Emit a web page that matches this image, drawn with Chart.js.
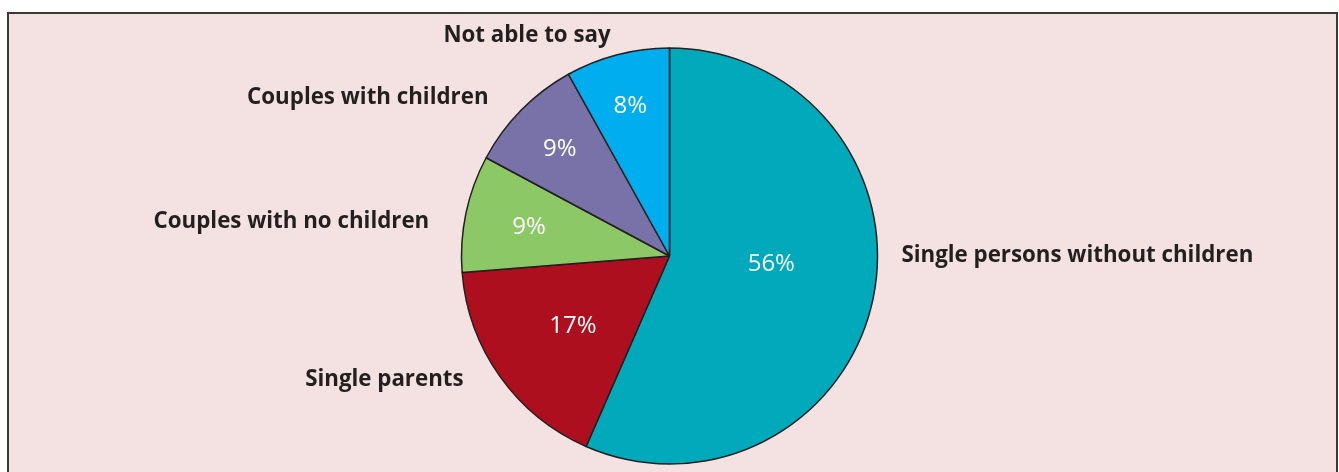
<!DOCTYPE html>
<html>
<head>
<meta charset="utf-8">
<script src="https://cdn.jsdelivr.net/npm/chart.js@4/dist/chart.umd.min.js"></script>
<style>
  html, body { margin: 0; padding: 0; background: #ffffff; }
  #frame {
    position: absolute; left: 7px; top: 12px; width: 1327px; height: 480px;
    background: #f4e1e1; border: 2px solid #3a3a3a;
  }
  #wrap { position: absolute; left: 0; top: 0; width: 1339px; height: 472px; }
</style>
</head>
<body>
<div id="frame"></div>
<div id="wrap"><canvas id="pieChart"></canvas></div>
<script>
// data
const categories = ['Single persons without children', 'Single parents', 'Couples with no children', 'Couples with children', 'Not able to say'];
const shares = [56, 17, 9, 9, 8];
const sliceColors = ['#00aabb', '#ad0f1e', '#8cc865', '#7872a8', '#00aeef'];

// where the outside labels sit, relative to the pie centre (in radii)
const labelSpots = [
  { x: 1.115, y: 0.0, align: 'left' },
  { x: -0.99, y: 0.595, align: 'right' },
  { x: -1.155, y: -0.165, align: 'right' },
  { x: -0.87, y: -0.76, align: 'right' },
  { x: -0.685, y: -1.058, align: 'center' }
];
// how far out the % text goes (fraction of radius)
const pctDepth = [0.5, 0.57, 0.69, 0.74, 0.75];

const labelPlugin = {
  id: 'pieLabels',
  afterDatasetsDraw(chart) {
    const ctx = chart.ctx;
    const arcs = chart.getDatasetMeta(0).data;
    ctx.save();
    ctx.textBaseline = 'middle';
    arcs.forEach((arc, i) => {
      const r = arc.outerRadius;
      const mid = (arc.startAngle + arc.endAngle) / 2;
      // percentage inside the slice
      ctx.fillStyle = '#ffffff';
      ctx.font = '24px "Open Sans", sans-serif';
      ctx.textAlign = 'center';
      let d = pctDepth[i] * r;
      let dy = i === 0 ? -13 : 1;
      ctx.fillText(shares[i] + '%', arc.x + Math.cos(mid) * d, arc.y + Math.sin(mid) * d + dy);
      // category name outside
      ctx.fillStyle = '#231f20';
      ctx.font = 'bold 22.3px "Open Sans", sans-serif';
      ctx.textAlign = labelSpots[i].align;
      ctx.fillText(categories[i], arc.x + labelSpots[i].x * r, arc.y + labelSpots[i].y * r);
    });
    ctx.restore();
  }
};

const chart = new Chart(document.getElementById('pieChart'), {
  type: 'pie',
  data: {
    labels: categories,
    datasets: [{
      data: shares,
      backgroundColor: sliceColors,
      borderColor: '#231f20',
      borderWidth: 1.5
    }]
  },
  options: {
    responsive: true,
    maintainAspectRatio: false,
    animation: false,
    radius: 208,
    layout: { padding: { top: 48, bottom: 8 } },
    plugins: {
      legend: { display: false },
      tooltip: { enabled: false }
    }
  },
  plugins: [labelPlugin]
});
</script>
</body>
</html>
